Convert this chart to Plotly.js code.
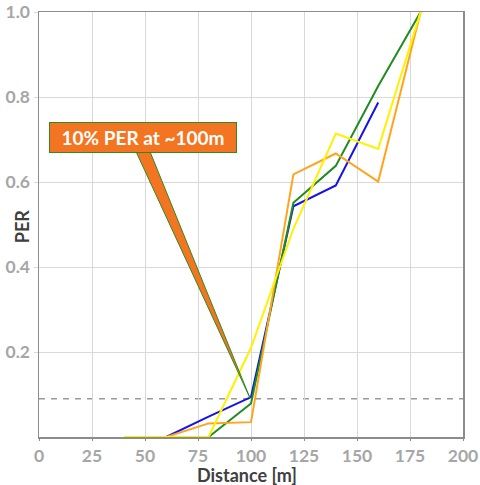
<!DOCTYPE html>
<html>
<head>
<meta charset="utf-8">
<script src="https://cdn.plot.ly/plotly-3.0.1.min.js"></script>
<style>html,body{margin:0;padding:0;background:#fff;}#chart{width:480px;height:485px;}</style>
</head>
<body>
<div id="chart"></div>
<script>
// Data
var blueX = [60, 80, 100, 120, 140, 160];
var blueY = [0, 0.048, 0.094, 0.543, 0.592, 0.787];
var greenX = [80, 100, 120, 140, 160, 180];
var greenY = [0, 0.079, 0.551, 0.638, 0.826, 1.0];
var orangeX = [60, 80, 100, 120, 140, 160, 180];
var orangeY = [0, 0.032, 0.035, 0.618, 0.667, 0.601, 1.0];
var yellowX = [40, 60, 80, 100, 120, 140, 160, 180];
var yellowY = [0, 0, 0, 0.21, 0.49, 0.714, 0.678, 1.0];
var thresholdPER = 0.09;
var xTicks = [0, 25, 50, 75, 100, 125, 150, 175, 200];
var yTicks = [0.2, 0.4, 0.6, 0.8, 1.0];
var yTickText = ['0.2', '0.4', '0.6', '0.8', '1.0'];
var xTitle = 'Distance [m]';
var yTitle = 'PER';
var calloutText = '10% PER at ~100m';
// callout geometry (data coordinates)
var calloutBox = {x: 48.9, y: 0.705};
var calloutWedge = {x0: 45.8, x1: 52.4, yBase: 0.671, tipX: 99.5, tipY: 0.092};

var FAM = 'Lato, "Open Sans", sans-serif';
var tickFont = {family: FAM, size: 17.5, color: '#A6A6A6', weight: 700};
var titleFont = {family: FAM, size: 18, color: '#404040', weight: 700};

function line(x, y, color) {
  return {x: x, y: y, type: 'scatter', mode: 'lines', line: {color: color, width: 2}, showlegend: false, hoverinfo: 'skip'};
}
var data = [
  line(blueX, blueY, '#1414E6'),
  line(greenX, greenY, '#1E8C1E'),
  line(orangeX, orangeY, '#FFA41E'),
  line(yellowX, yellowY, '#FFF200')
];

var w = calloutWedge;
var layout = {
  width: 480, height: 485,
  margin: {l: 39, r: 17, t: 12, b: 48},
  paper_bgcolor: '#fff', plot_bgcolor: '#fff',
  showlegend: false,
  xaxis: {
    range: [0, 200], tickvals: xTicks, ticktext: xTicks.map(String),
    showgrid: true, gridcolor: '#D9D9D9', gridwidth: 1,
    showline: true, linecolor: '#8C8C8C', linewidth: 1.5, mirror: true,
    ticks: 'outside', ticklen: 2, tickcolor: '#8C8C8C',
    tickfont: tickFont, zeroline: false
  },
  yaxis: {
    range: [0, 1.0], tickvals: yTicks, ticktext: yTickText,
    showgrid: true, gridcolor: '#D9D9D9', gridwidth: 1,
    showline: true, linecolor: '#8C8C8C', linewidth: 1.5, mirror: true,
    ticks: 'outside', ticklen: 4, tickcolor: '#D9D9D9',
    tickfont: tickFont, zeroline: false
  },
  shapes: [
    {type: 'line', xref: 'paper', yref: 'y', x0: 0, x1: 1, y0: thresholdPER, y1: thresholdPER,
     line: {color: '#999999', width: 1.5, dash: '6px,6px'}, layer: 'below'},
    {type: 'path', xref: 'x', yref: 'y',
     path: 'M ' + w.x0 + ',' + w.yBase + ' L ' + w.x1 + ',' + w.yBase + ' L ' + w.tipX + ',' + w.tipY + ' Z',
     fillcolor: '#F47521', line: {color: '#2E8B22', width: 1}, layer: 'above'}
  ],
  annotations: [
    {x: calloutBox.x, y: calloutBox.y, xref: 'x', yref: 'y', text: calloutText, showarrow: false,
     font: {family: FAM, size: 19, color: '#FFFFFF', weight: 700},
     bgcolor: '#F47521', bordercolor: '#2E8B22', borderwidth: 1, borderpad: 1,
     width: 184, height: 27, align: 'center', valign: 'middle'},
    {x: 0.49, y: -0.089, xref: 'paper', yref: 'paper', text: xTitle, showarrow: false,
     font: titleFont, xanchor: 'center', yanchor: 'middle', borderpad: 0},
    {x: -0.041, y: 0.495, xref: 'paper', yref: 'paper', text: yTitle, showarrow: false,
     textangle: -90, font: titleFont, xanchor: 'center', yanchor: 'middle'}
  ]
};
Plotly.newPlot('chart', data, layout, {staticPlot: true, displayModeBar: false});
</script>
</body>
</html>
